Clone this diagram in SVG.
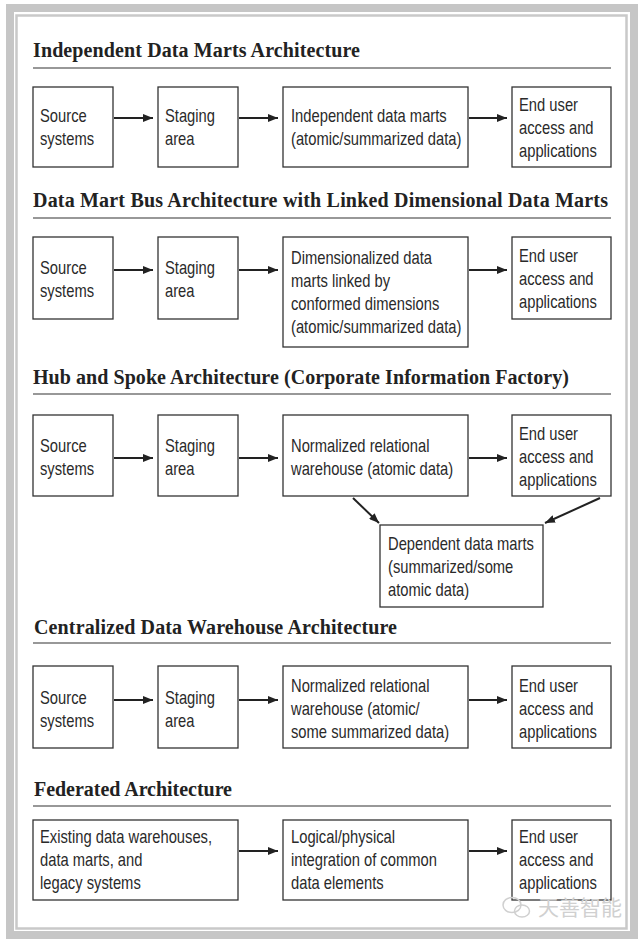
<svg xmlns="http://www.w3.org/2000/svg" width="640" height="939" viewBox="0 0 640 939">
<defs>
<style>
.h{font-family:"Liberation Serif","Times New Roman",serif;font-weight:bold;font-size:20px;fill:#222}
.t{font-family:"Liberation Sans",Arial,sans-serif;font-size:18px;fill:#2a2a2a}
.b{fill:#fff;stroke:#333;stroke-width:1.3}
.r{stroke:#333;stroke-width:1.2}
.a{stroke:#222;stroke-width:2;fill:none;marker-end:url(#ah)}
.w{font-family:"Noto Sans CJK SC","Liberation Sans",sans-serif;font-size:21px;fill:#d0d0d0}
</style>
<marker id="ah" viewBox="0 0 10 8" refX="10" refY="4" markerWidth="10" markerHeight="8" markerUnits="userSpaceOnUse" orient="auto">
<path d="M0,0 L10,4 L0,8 z" fill="#222"/>
</marker>
</defs>
<rect x="0" y="0" width="640" height="939" fill="#fff"/>
<rect x="10" y="8" width="624" height="927" fill="#fff" stroke="#c6c6c6" stroke-width="8"/>
<rect x="16.5" y="15.5" width="610" height="913" fill="none" stroke="#c9c9c9" stroke-width="2.5"/>

<g id="sec1">
<text class="h" x="33" y="57" textLength="327">Independent Data Marts Architecture</text>
<line class="r" x1="33" y1="68" x2="611" y2="68"/>
</g>
<g id="s1-source"><rect class="b" x="33" y="87" width="80" height="80"/><g transform="translate(40,0) scale(0.82,1)"><text class="t" y="122">Source</text><text class="t" y="145">systems</text></g></g>
<g id="s1-staging"><rect class="b" x="158" y="87" width="80" height="80"/><g transform="translate(165,0) scale(0.82,1)"><text class="t" y="122">Staging</text><text class="t" y="145">area</text></g></g>
<g id="s1-marts"><rect class="b" x="283" y="87" width="185" height="80"/><g transform="translate(291,0) scale(0.82,1)"><text class="t" y="122">Independent data marts</text><text class="t" y="145">(atomic/summarized data)</text></g></g>
<g id="s1-end"><rect class="b" x="512" y="87" width="99" height="80"/><g transform="translate(519,0) scale(0.82,1)"><text class="t" y="111">End user</text><text class="t" y="134">access and</text><text class="t" y="157">applications</text></g></g>

<g id="sec2">
<text class="h" x="33" y="207" textLength="575">Data Mart Bus Architecture with Linked Dimensional Data Marts</text>
<line class="r" x1="33" y1="218" x2="611" y2="218"/>
</g>
<g id="s2-source"><rect class="b" x="33" y="237" width="80" height="82"/><g transform="translate(40,0) scale(0.82,1)"><text class="t" y="274">Source</text><text class="t" y="297">systems</text></g></g>
<g id="s2-staging"><rect class="b" x="158" y="237" width="80" height="82"/><g transform="translate(165,0) scale(0.82,1)"><text class="t" y="274">Staging</text><text class="t" y="297">area</text></g></g>
<g id="s2-marts"><rect class="b" x="283" y="237" width="185" height="110"/><g transform="translate(291,0) scale(0.82,1)"><text class="t" y="264">Dimensionalized data</text><text class="t" y="287">marts linked by</text><text class="t" y="310">conformed dimensions</text><text class="t" y="333">(atomic/summarized data)</text></g></g>
<g id="s2-end"><rect class="b" x="512" y="237" width="99" height="82"/><g transform="translate(519,0) scale(0.82,1)"><text class="t" y="262">End user</text><text class="t" y="285">access and</text><text class="t" y="308">applications</text></g></g>

<g id="sec3">
<text class="h" x="33" y="384" textLength="536">Hub and Spoke Architecture (Corporate Information Factory)</text>
<line class="r" x1="33" y1="394" x2="611" y2="394"/>
</g>
<g id="s3-source"><rect class="b" x="33" y="415" width="80" height="81"/><g transform="translate(40,0) scale(0.82,1)"><text class="t" y="452">Source</text><text class="t" y="475">systems</text></g></g>
<g id="s3-staging"><rect class="b" x="158" y="415" width="80" height="81"/><g transform="translate(165,0) scale(0.82,1)"><text class="t" y="452">Staging</text><text class="t" y="475">area</text></g></g>
<g id="s3-warehouse"><rect class="b" x="283" y="415" width="185" height="81"/><g transform="translate(291,0) scale(0.82,1)"><text class="t" y="452">Normalized relational</text><text class="t" y="475">warehouse (atomic data)</text></g></g>
<g id="s3-end"><rect class="b" x="512" y="415" width="99" height="81"/><g transform="translate(519,0) scale(0.82,1)"><text class="t" y="440">End user</text><text class="t" y="463">access and</text><text class="t" y="486">applications</text></g></g>
<g id="s3-dependent"><rect class="b" x="380" y="525" width="163" height="82"/><g transform="translate(388,0) scale(0.82,1)"><text class="t" y="550">Dependent data marts</text><text class="t" y="573">(summarized/some</text><text class="t" y="596">atomic data)</text></g></g>

<g id="sec4">
<text class="h" x="34" y="634" textLength="363">Centralized Data Warehouse Architecture</text>
<line class="r" x1="33" y1="643" x2="611" y2="643"/>
</g>
<g id="s4-source"><rect class="b" x="33" y="666" width="80" height="82"/><g transform="translate(40,0) scale(0.82,1)"><text class="t" y="704">Source</text><text class="t" y="727">systems</text></g></g>
<g id="s4-staging"><rect class="b" x="158" y="666" width="80" height="82"/><g transform="translate(165,0) scale(0.82,1)"><text class="t" y="704">Staging</text><text class="t" y="727">area</text></g></g>
<g id="s4-warehouse"><rect class="b" x="283" y="666" width="185" height="82"/><g transform="translate(291,0) scale(0.82,1)"><text class="t" y="692">Normalized relational</text><text class="t" y="715">warehouse (atomic/</text><text class="t" y="738">some summarized data)</text></g></g>
<g id="s4-end"><rect class="b" x="512" y="666" width="99" height="82"/><g transform="translate(519,0) scale(0.82,1)"><text class="t" y="692">End user</text><text class="t" y="715">access and</text><text class="t" y="738">applications</text></g></g>

<g id="sec5">
<text class="h" x="34" y="796" textLength="198">Federated Architecture</text>
<line class="r" x1="33" y1="806" x2="611" y2="806"/>
</g>
<g id="s5-existing"><rect class="b" x="33" y="820" width="205" height="80"/><g transform="translate(40,0) scale(0.82,1)"><text class="t" y="843">Existing data warehouses,</text><text class="t" y="866">data marts, and</text><text class="t" y="889">legacy systems</text></g></g>
<g id="s5-integration"><rect class="b" x="283" y="820" width="185" height="80"/><g transform="translate(291,0) scale(0.82,1)"><text class="t" y="843">Logical/physical</text><text class="t" y="866">integration of common</text><text class="t" y="889">data elements</text></g></g>
<g id="s5-end"><rect class="b" x="512" y="820" width="99" height="80"/><g transform="translate(519,0) scale(0.82,1)"><text class="t" y="843">End user</text><text class="t" y="866">access and</text><text class="t" y="889">applications</text></g></g>

<g id="connectors">
<line class="a" x1="114" y1="118" x2="153" y2="118"/>
<line class="a" x1="239" y1="118" x2="278" y2="118"/>
<line class="a" x1="469" y1="118" x2="507" y2="118"/>
<line class="a" x1="114" y1="270" x2="153" y2="270"/>
<line class="a" x1="239" y1="270" x2="278" y2="270"/>
<line class="a" x1="469" y1="270" x2="507" y2="270"/>
<line class="a" x1="114" y1="458" x2="153" y2="458"/>
<line class="a" x1="239" y1="458" x2="278" y2="458"/>
<line class="a" x1="469" y1="458" x2="507" y2="458"/>
<line class="a" x1="353" y1="498" x2="379" y2="523"/>
<line class="a" x1="600" y1="498" x2="545" y2="523"/>
<line class="a" x1="114" y1="700" x2="153" y2="700"/>
<line class="a" x1="239" y1="700" x2="278" y2="700"/>
<line class="a" x1="469" y1="700" x2="507" y2="700"/>
<line class="a" x1="239" y1="851" x2="278" y2="851"/>
<line class="a" x1="469" y1="851" x2="507" y2="851"/>
</g>

<g id="watermark">
<ellipse cx="512" cy="905" rx="9" ry="7.5" fill="none" stroke="#d0d0d0" stroke-width="1.5"/>
<ellipse cx="522" cy="911" rx="7.5" ry="6" fill="none" stroke="#d0d0d0" stroke-width="1.5"/>
<text class="w" x="538" y="915">天善智能</text>
</g>
</svg>
